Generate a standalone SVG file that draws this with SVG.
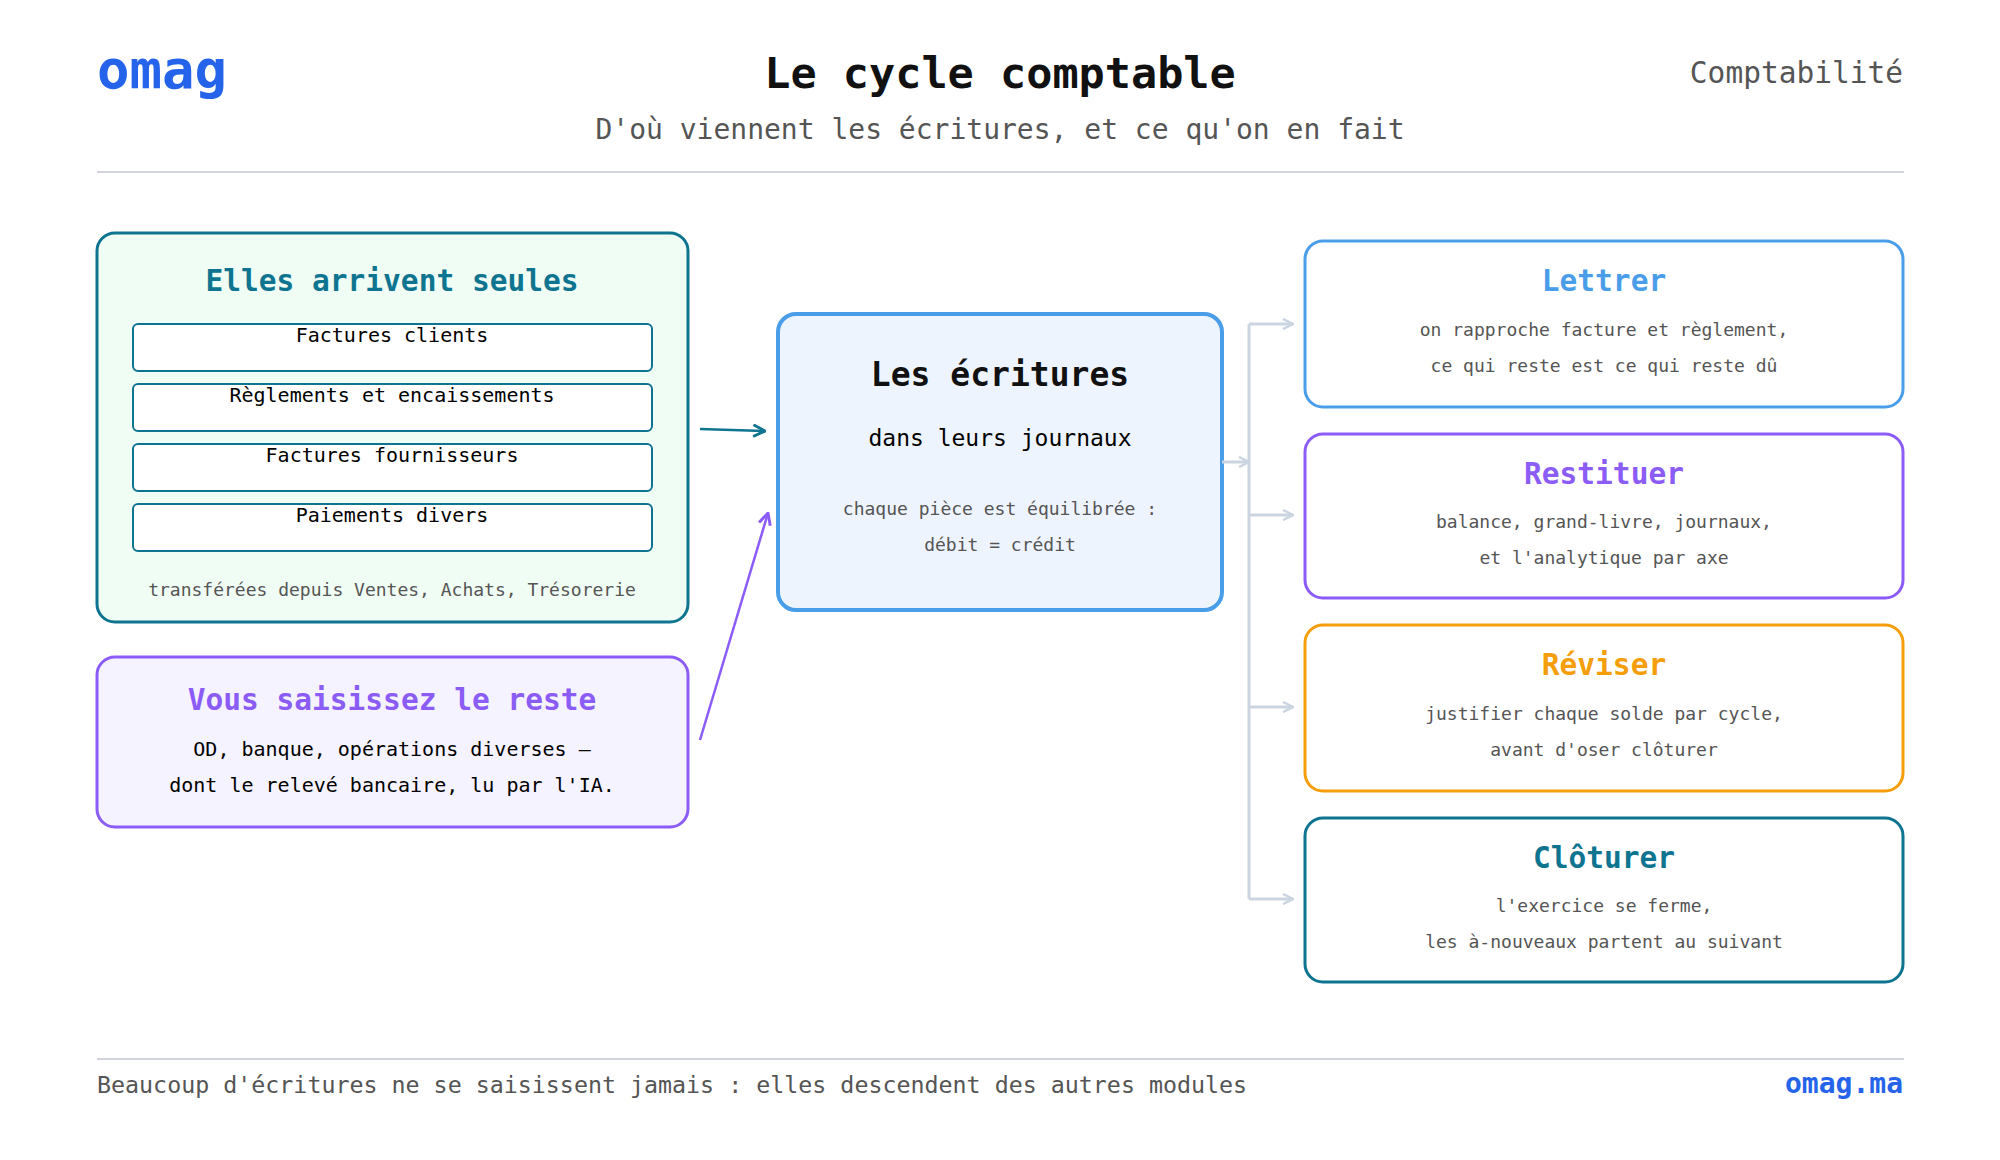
<svg xmlns="http://www.w3.org/2000/svg" width="2000" height="1160" viewBox="0 0 2000 1160">
<style>
text{font-family:"DejaVu Sans Mono","Liberation Mono",monospace}
.c{text-anchor:middle}
.g{fill:#555}
.sm{font-size:18px}
.md{font-size:20px}
.ti{font-size:29.5px;font-weight:bold}
.inner{fill:#fff;stroke:#0e7490;stroke-width:2}
.con{fill:none;stroke:#cbd5e1;stroke-width:3}
</style>
<defs>
<marker id="mg" viewBox="0 0 12 12" refX="11" refY="6" markerWidth="12" markerHeight="12" markerUnits="userSpaceOnUse" orient="auto"><path d="M1,1 L11,6 L1,11" fill="none" stroke="#cbd5e1" stroke-width="2.5"/></marker>
<marker id="mt" viewBox="0 0 12 12" refX="11" refY="6" markerWidth="14" markerHeight="14" markerUnits="userSpaceOnUse" orient="auto"><path d="M1,1 L11,6 L1,11" fill="none" stroke="#0e7490" stroke-width="2.5"/></marker>
<marker id="mp" viewBox="0 0 12 12" refX="11" refY="6" markerWidth="14" markerHeight="14" markerUnits="userSpaceOnUse" orient="auto"><path d="M1,1 L11,6 L1,11" fill="none" stroke="#8b5cf6" stroke-width="2.5"/></marker>
</defs>
<rect width="2000" height="1160" fill="#fff"/>
<g id="header">
<text x="97" y="88" font-size="54" font-weight="bold" fill="#2563eb">omag</text>
<text x="1000" y="88" class="c" font-size="43.5" font-weight="bold" fill="#111">Le cycle comptable</text>
<text x="1000" y="139" class="c g" font-size="28">D'où viennent les écritures, et ce qu'on en fait</text>
<text x="1903" y="83" text-anchor="end" class="g" font-size="29.5">Comptabilité</text>
<line x1="97" y1="172" x2="1904" y2="172" stroke="#d1d5db" stroke-width="2"/>
</g>
<g id="auto">
<rect x="97" y="233" width="591" height="389" rx="18" fill="#f0fdf4" stroke="#0e7490" stroke-width="3"/>
<text x="392" y="291" class="c ti" fill="#0e7490">Elles arrivent seules</text>
<rect class="inner" x="133" y="324" width="519" height="47" rx="5"/>
<text x="392" y="342" class="c md">Factures clients</text>
<rect class="inner" x="133" y="384" width="519" height="47" rx="5"/>
<text x="392" y="402" class="c md">Règlements et encaissements</text>
<rect class="inner" x="133" y="444" width="519" height="47" rx="5"/>
<text x="392" y="462" class="c md">Factures fournisseurs</text>
<rect class="inner" x="133" y="504" width="519" height="47" rx="5"/>
<text x="392" y="522" class="c md">Paiements divers</text>
<text x="392" y="596" class="c g sm">transférées depuis Ventes, Achats, Trésorerie</text>
</g>
<g id="saisie">
<rect x="97" y="657" width="591" height="170" rx="18" fill="#f5f3ff" stroke="#8b5cf6" stroke-width="3"/>
<text x="392" y="710" class="c ti" fill="#8b5cf6">Vous saisissez le reste</text>
<text x="392" y="756" class="c md">OD, banque, opérations diverses —</text>
<text x="392" y="792" class="c md">dont le relevé bancaire, lu par l'IA.</text>
</g>
<g id="ecritures">
<rect x="778" y="314" width="444" height="296" rx="18" fill="#eef4fe" stroke="#4a9de8" stroke-width="4"/>
<text x="1000" y="386" class="c" font-size="33" font-weight="bold" fill="#111">Les écritures</text>
<text x="1000" y="446" class="c" font-size="23">dans leurs journaux</text>
<text x="1000" y="515" class="c g sm">chaque pièce est équilibrée :</text>
<text x="1000" y="551" class="c g sm">débit = crédit</text>
</g>
<g id="lettrer">
<rect x="1305" y="241" width="598" height="166" rx="18" fill="#fff" stroke="#4a9de8" stroke-width="3"/>
<text x="1604" y="291" class="c ti" fill="#4a9de8">Lettrer</text>
<text x="1604" y="336" class="c g sm">on rapproche facture et règlement,</text>
<text x="1604" y="372" class="c g sm">ce qui reste est ce qui reste dû</text>
</g>
<g id="restituer">
<rect x="1305" y="434" width="598" height="164" rx="18" fill="#fff" stroke="#8b5cf6" stroke-width="3"/>
<text x="1604" y="484" class="c ti" fill="#8b5cf6">Restituer</text>
<text x="1604" y="528" class="c g sm">balance, grand-livre, journaux,</text>
<text x="1604" y="564" class="c g sm">et l'analytique par axe</text>
</g>
<g id="reviser">
<rect x="1305" y="625" width="598" height="166" rx="18" fill="#fff" stroke="#f59e0b" stroke-width="3"/>
<text x="1604" y="675" class="c ti" fill="#f59e0b">Réviser</text>
<text x="1604" y="720" class="c g sm">justifier chaque solde par cycle,</text>
<text x="1604" y="756" class="c g sm">avant d'oser clôturer</text>
</g>
<g id="cloturer">
<rect x="1305" y="818" width="598" height="164" rx="18" fill="#fff" stroke="#0e7490" stroke-width="3"/>
<text x="1604" y="868" class="c ti" fill="#0e7490">Clôturer</text>
<text x="1604" y="912" class="c g sm">l'exercice se ferme,</text>
<text x="1604" y="948" class="c g sm">les à-nouveaux partent au suivant</text>
</g>
<g id="connectors">
<path d="M700,429 L765,431" fill="none" stroke="#0e7490" stroke-width="2.5" marker-end="url(#mt)"/>
<path d="M700,740 L768,513" fill="none" stroke="#8b5cf6" stroke-width="2.5" marker-end="url(#mp)"/>
<path class="con" d="M1222,462 L1249,462" marker-end="url(#mg)"/>
<path class="con" d="M1249,324 L1249,899"/>
<path class="con" d="M1249,324 L1293,324" marker-end="url(#mg)"/>
<path class="con" d="M1249,515 L1293,515" marker-end="url(#mg)"/>
<path class="con" d="M1249,707 L1293,707" marker-end="url(#mg)"/>
<path class="con" d="M1249,899 L1293,899" marker-end="url(#mg)"/>
</g>
<g id="footer">
<line x1="97" y1="1059" x2="1904" y2="1059" stroke="#d1d5db" stroke-width="2"/>
<text x="97" y="1093" class="g" font-size="23.3">Beaucoup d'écritures ne se saisissent jamais : elles descendent des autres modules</text>
<text x="1903" y="1093" text-anchor="end" font-size="28" font-weight="bold" fill="#2563eb">omag.ma</text>
</g>
</svg>
